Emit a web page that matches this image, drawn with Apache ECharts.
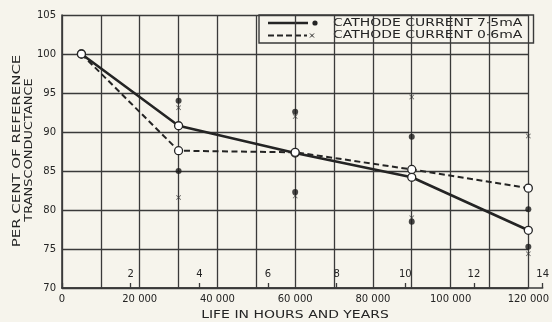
<!DOCTYPE html>
<html>
<head>
<meta charset="utf-8">
<script src="https://cdn.jsdelivr.net/npm/echarts@6/dist/echarts.min.js"></script>
<style>
  html, body { margin: 0; padding: 0; background: #f6f4ec; }
  #chart { width: 552px; height: 322px; }
</style>
</head>
<body>
<div id="chart"></div>
<script>
// Life test of valves: transconductance (% of reference) against hours of life.
const lifeHours = [5000, 30000, 60000, 90000, 120000];
const meanHigh = [100, 90.8, 87.3, 84.2, 77.4];   // cathode current 7·5 mA
const meanLow  = [100, 87.6, 87.4, 85.2, 82.8];   // cathode current 0·6 mA

// Spread of individual valves at each test point (upper, lower)
const spreadHours = [30000, 30000, 60000, 60000, 90000, 90000, 120000, 120000];
const spreadHigh  = [94.0, 85.0, 92.6, 82.3, 89.4, 78.5, 80.1, 75.3];
const spreadLow   = [93.1, 81.6, 92.0, 81.8, 94.5, 79.0, 89.5, 74.4];

const yearTicks = [0, 2, 4, 6, 8, 10, 12, 14];
const legendNames = ['CATHODE CURRENT 7·5mA', 'CATHODE CURRENT 0·6mA'];
const yTitle = ['PER CENT OF REFERENCE', 'TRANSCONDUCTANCE'];
const xTitle = 'LIFE IN HOURS AND YEARS';

const ink = '#242424';
const grid = '#3a3a3a';
const bg = '#f6f4ec';
const FONT = '"DejaVu Sans", sans-serif';

const pair = (xs, ys) => xs.map((x, i) => [x, ys[i]]);
const crossPath = 'path://M1,0L5,4L9,0L10,1L6,5L10,9L9,10L5,6L1,10L0,9L4,5L0,1Z';

const chart = echarts.init(document.getElementById('chart'), null, { renderer: 'canvas' });

const plotLeft = 62, plotRight = 18.4, plotTop = 15, plotBottom = 34;

chart.setOption({
  backgroundColor: bg,
  animation: false,
  grid: [
    { left: plotLeft, right: plotRight, top: plotTop, bottom: plotBottom },
    { left: plotLeft, right: 8, top: plotTop, bottom: plotBottom }
  ],
  xAxis: [
    {
      type: 'value', gridIndex: 0, min: 0, max: 120000, interval: 10000,
      axisLine: { show: true, lineStyle: { color: grid, width: 1.6 } },
      axisTick: { show: false },
      splitLine: { show: true, lineStyle: { color: grid, width: 1.3 } },
      axisLabel: {
        margin: 6, color: ink, fontFamily: FONT, fontSize: 10,
        formatter: v => v % 20000 !== 0 ? '' : (v === 0 ? '0' : (v / 1000) + ' 000')
      }
    },
    {
      type: 'value', gridIndex: 1, min: 0, max: 14, interval: 2,
      axisLine: { show: true, lineStyle: { color: grid, width: 1.6 } },
      axisTick: { show: true, inside: true, length: 5, lineStyle: { color: grid, width: 1.3 } },
      splitLine: { show: false },
      axisLabel: {
        inside: true, margin: 9, color: ink, fontFamily: FONT, fontSize: 10,
        formatter: v => (yearTicks.includes(v) && v !== 0) ? String(v) : ''
      }
    }
  ],
  yAxis: [
    {
      type: 'value', gridIndex: 0, min: 70, max: 105, interval: 5,
      axisLine: { show: true, lineStyle: { color: grid, width: 1.6 } },
      axisTick: { show: false },
      splitLine: { show: true, lineStyle: { color: grid, width: 1.3 } },
      axisLabel: { margin: 6, color: ink, fontFamily: FONT, fontSize: 10 }
    },
    { type: 'value', gridIndex: 1, min: 0, max: 1, show: false }
  ],
  series: [
    {
      name: legendNames[0], type: 'line', xAxisIndex: 0, yAxisIndex: 0,
      data: pair(lifeHours, meanHigh),
      lineStyle: { color: ink, width: 2.6 },
      symbol: 'circle', symbolSize: 8,
      itemStyle: { color: '#ffffff', borderColor: ink, borderWidth: 1.3 },
      z: 3
    },
    {
      name: legendNames[1], type: 'line', xAxisIndex: 0, yAxisIndex: 0,
      data: pair(lifeHours, meanLow),
      lineStyle: { color: ink, width: 2, type: [6, 3.5] },
      symbol: 'circle', symbolSize: 8,
      itemStyle: { color: '#ffffff', borderColor: ink, borderWidth: 1.3 },
      z: 3
    },
    {
      name: legendNames[0] + ' spread', type: 'scatter', xAxisIndex: 0, yAxisIndex: 0,
      data: pair(spreadHours, spreadHigh),
      symbol: 'circle', symbolSize: 6,
      itemStyle: { color: '#1a1a1a' }, z: 4
    },
    {
      name: legendNames[1] + ' spread', type: 'scatter', xAxisIndex: 0, yAxisIndex: 0,
      data: pair(spreadHours, spreadLow),
      symbol: crossPath, symbolSize: 5,
      itemStyle: { color: '#333333' }, z: 4
    }
  ],
  graphic: [
    // key box in the upper right of the plot
    {
      type: 'group', z: 10,
      children: [
        { type: 'rect', shape: { x: 259, y: 15, width: 274.5, height: 28 },
          style: { fill: bg, stroke: grid, lineWidth: 1.4 } },
        { type: 'line', shape: { x1: 268, y1: 23, x2: 308, y2: 23 },
          style: { stroke: ink, lineWidth: 2.4 } },
        { type: 'circle', shape: { cx: 315, cy: 23, r: 2.6 }, style: { fill: ink } },
        { type: 'line', shape: { x1: 268, y1: 35.5, x2: 307, y2: 35.5 },
          style: { stroke: ink, lineWidth: 1.8, lineDash: [6, 3] } },
        { type: 'line', shape: { x1: 310, y1: 33.5, x2: 314, y2: 37.5 }, style: { stroke: ink, lineWidth: 1 } },
        { type: 'line', shape: { x1: 314, y1: 33.5, x2: 310, y2: 37.5 }, style: { stroke: ink, lineWidth: 1 } },
        { type: 'text', x: 333, y: 23, scaleX: 1.27, originX: 0,
          style: { text: legendNames[0], font: '11px ' + FONT, fill: ink, textAlign: 'left', textVerticalAlign: 'middle' } },
        { type: 'text', x: 333, y: 35.5, scaleX: 1.27, originX: 0,
          style: { text: legendNames[1], font: '11px ' + FONT, fill: ink, textAlign: 'left', textVerticalAlign: 'middle' } }
      ]
    },
    // axis titles
    { type: 'text', x: 17.5, y: 151, rotation: Math.PI / 2, scaleX: 1.36,
      style: { text: yTitle[0], font: '11px ' + FONT, fill: ink, textAlign: 'center', textVerticalAlign: 'middle' } },
    { type: 'text', x: 29, y: 150, rotation: Math.PI / 2, scaleX: 1.18,
      style: { text: yTitle[1], font: '11px ' + FONT, fill: ink, textAlign: 'center', textVerticalAlign: 'middle' } },
    { type: 'text', x: 295, y: 315, scaleX: 1.27,
      style: { text: xTitle, font: '11px ' + FONT, fill: ink, textAlign: 'center', textVerticalAlign: 'middle' } }
  ]
});
</script>
</body>
</html>
